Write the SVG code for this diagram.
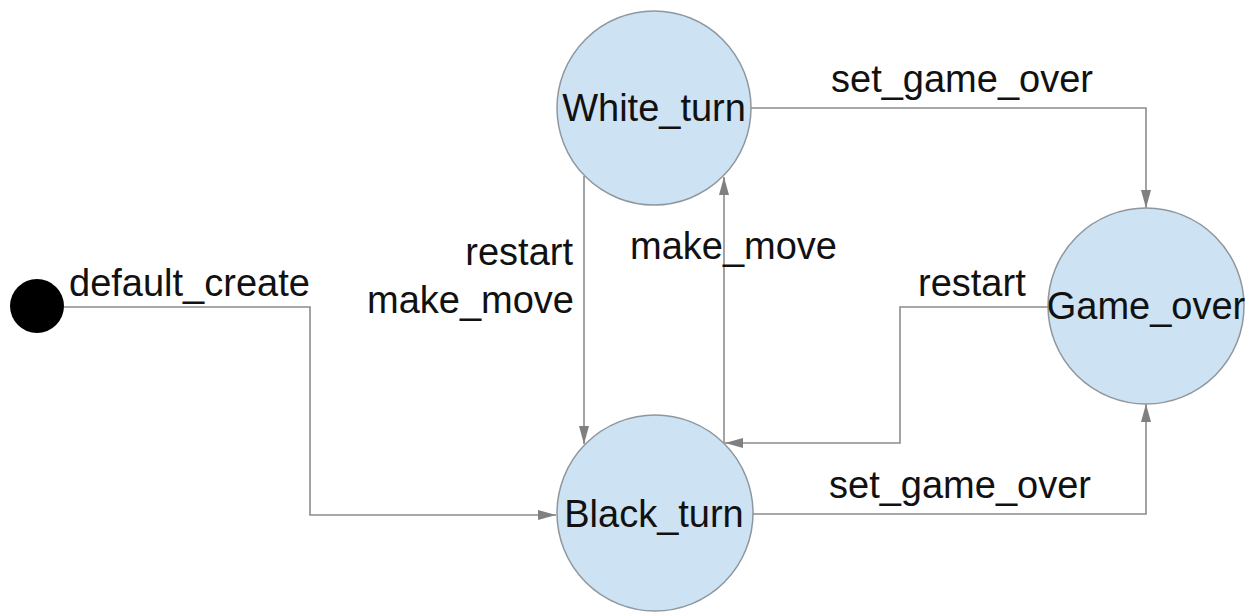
<svg xmlns="http://www.w3.org/2000/svg" width="1260" height="614" viewBox="0 0 1260 614">
<style>
  .edge { fill: none; stroke: #8c8c8c; stroke-width: 1.6; marker-end: url(#arrow); }
  .state { fill: #cde2f2; stroke: #8f979e; stroke-width: 1.5; }
  .lbl { font-family: "Liberation Sans", Arial, sans-serif; font-size: 38px; fill: #111111; }
  .mid { text-anchor: middle; }
  .end { text-anchor: end; }
</style>
<defs>
  <marker id="arrow" viewBox="0 0 18 10" refX="18" refY="5" markerWidth="18" markerHeight="10" markerUnits="userSpaceOnUse" orient="auto">
    <path d="M0,0 L18,5 L0,10 Z" fill="#808080"/>
  </marker>
</defs>
<rect width="1260" height="614" fill="#ffffff"/>
<g id="connectors">
  <path class="edge" d="M63,307 H310 V515 H556"/>
  <path class="edge" d="M584,176 V444"/>
  <path class="edge" d="M724,443 V177"/>
  <path class="edge" d="M751,108 H1146 V208"/>
  <path class="edge" d="M753,514 H1146 V404"/>
  <path class="edge" d="M1048,307 H900 V443 H725"/>
  <text class="lbl" x="69" y="296">default_create</text>
  <text class="lbl end" x="573" y="265">restart</text>
  <text class="lbl end" x="574" y="313">make_move</text>
  <text class="lbl" x="630" y="259">make_move</text>
  <text class="lbl" x="918" y="296">restart</text>
  <text class="lbl" x="831" y="92">set_game_over</text>
  <text class="lbl" x="829" y="498">set_game_over</text>
</g>
<g id="start">
  <circle cx="37" cy="306" r="27" fill="#000000"/>
</g>
<g id="White_turn">
  <circle class="state" cx="654" cy="108" r="97"/>
  <text class="lbl mid" x="654" y="121">White_turn</text>
</g>
<g id="Black_turn">
  <circle class="state" cx="655" cy="513" r="98"/>
  <text class="lbl mid" x="654" y="527">Black_turn</text>
</g>
<g id="Game_over">
  <circle class="state" cx="1146" cy="306" r="98"/>
  <text class="lbl mid" x="1146" y="319">Game_over</text>
</g>
</svg>
